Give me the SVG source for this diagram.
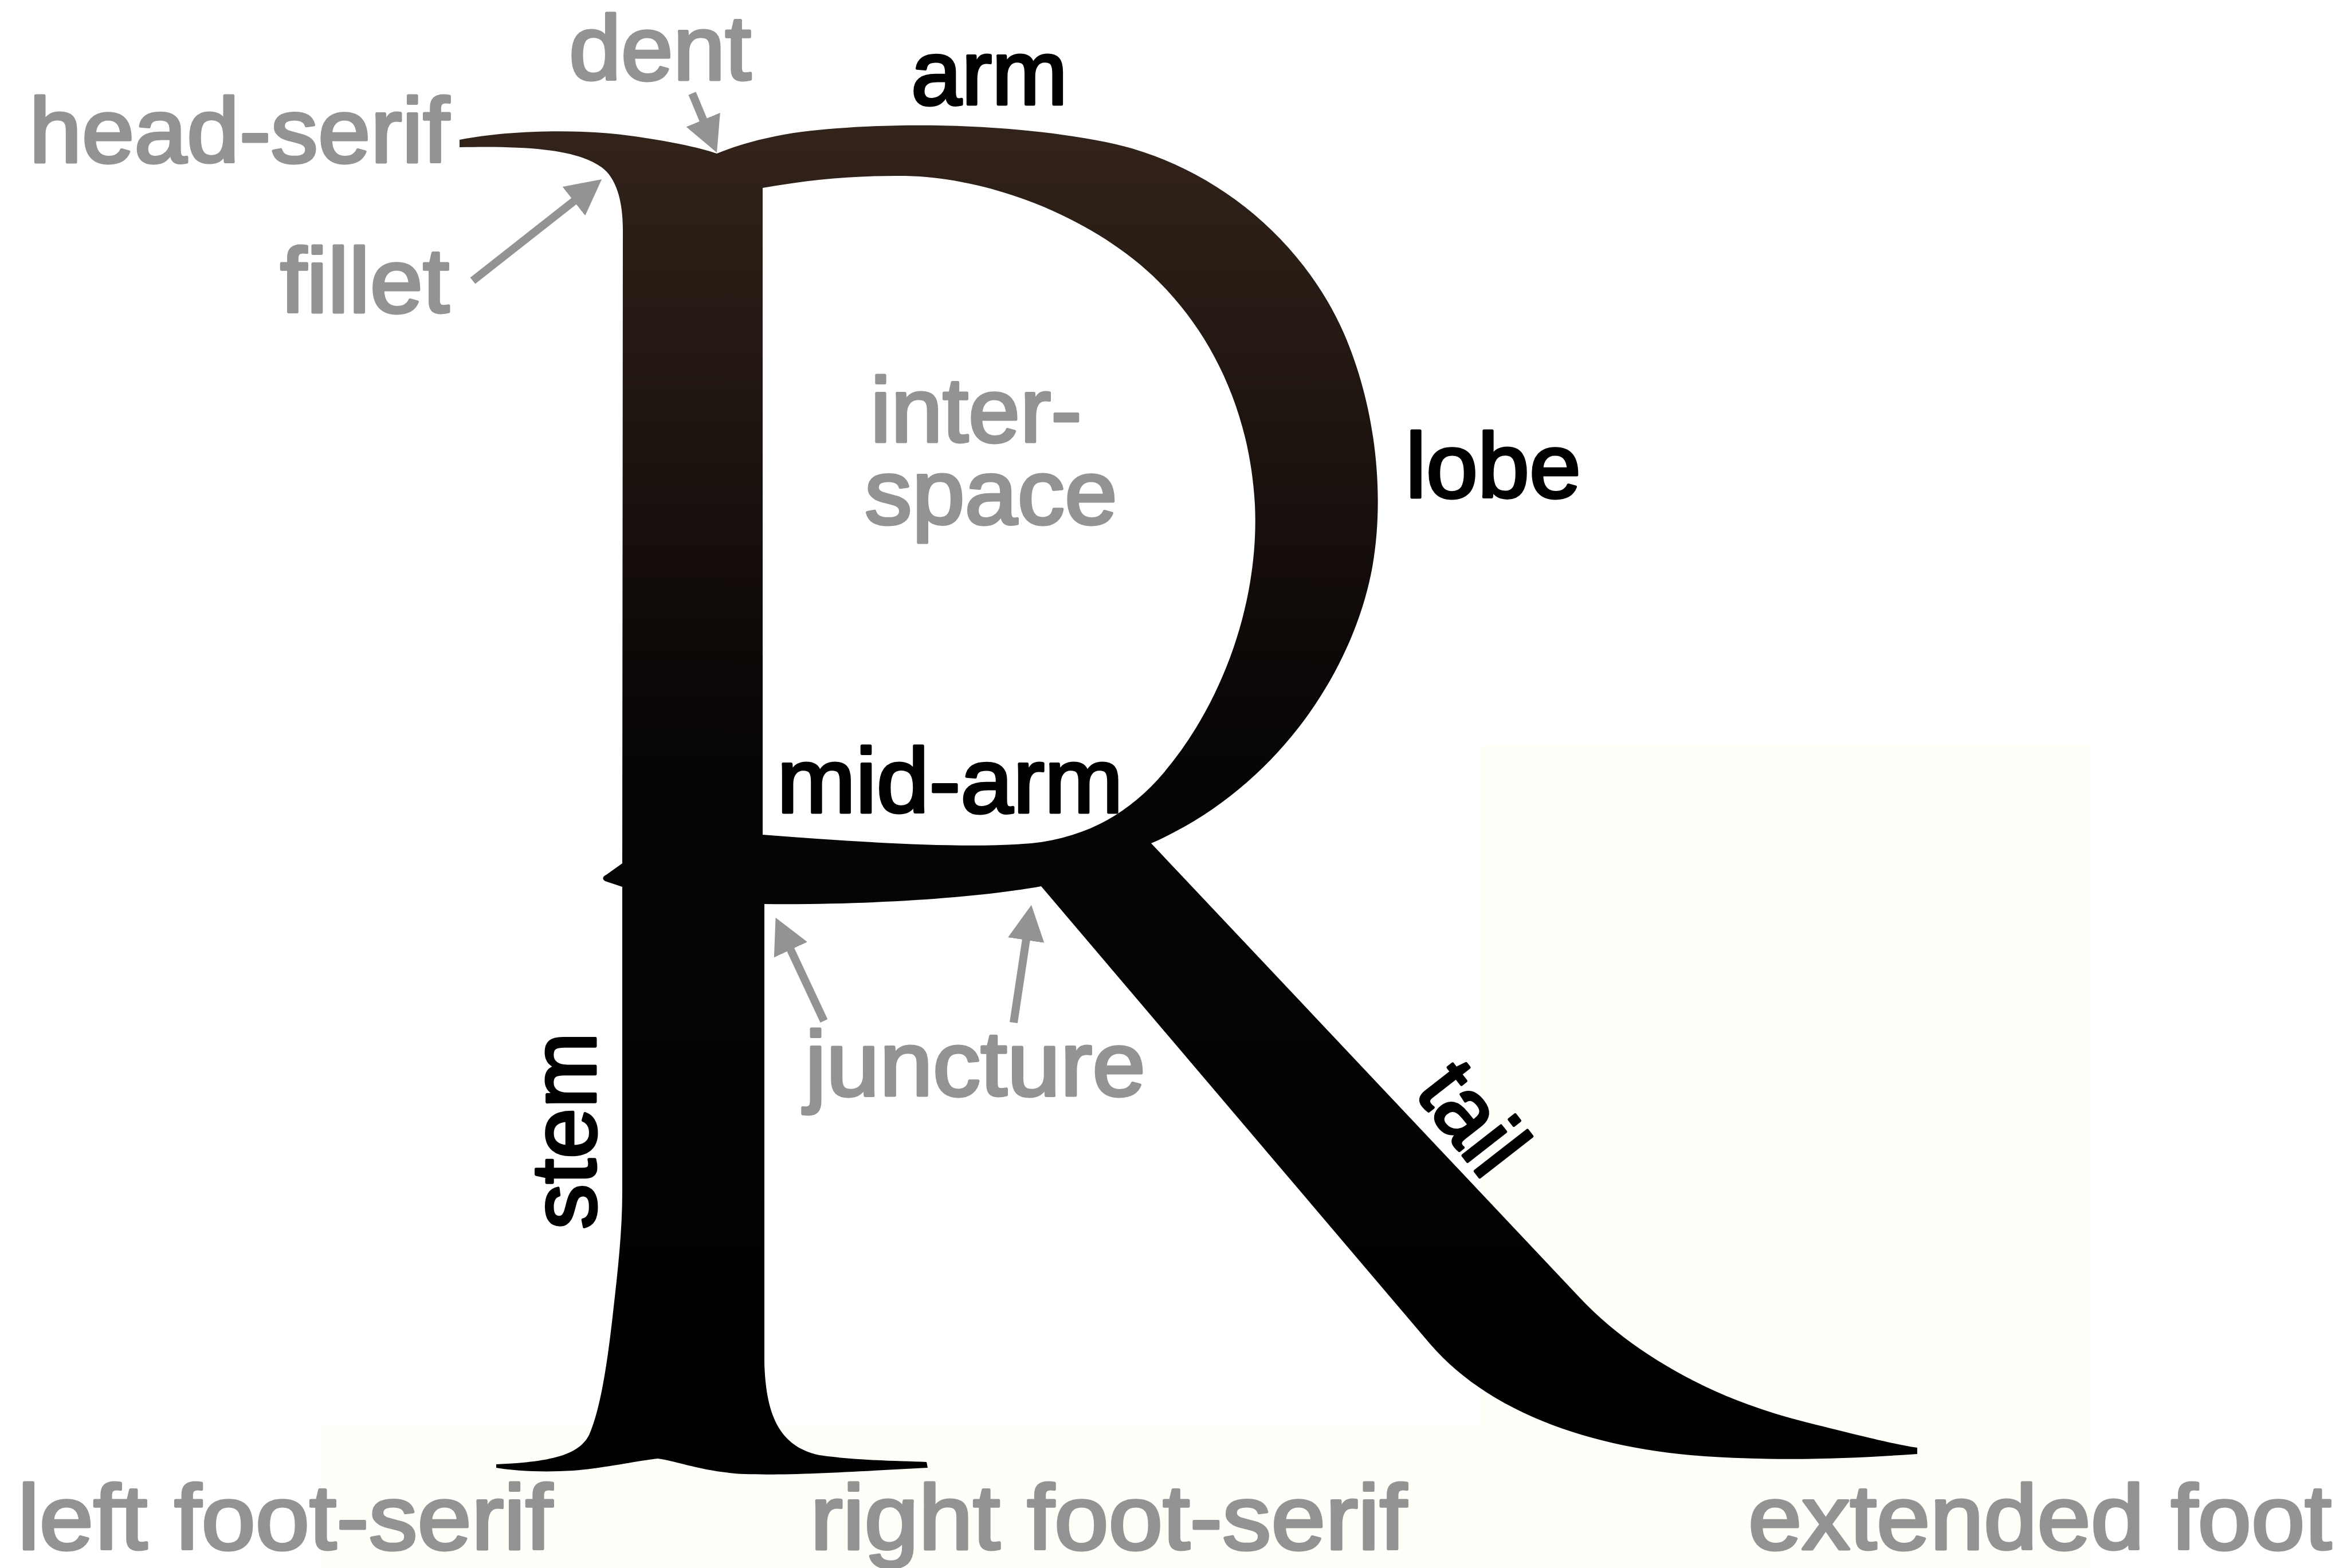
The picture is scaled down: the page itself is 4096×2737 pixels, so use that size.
<svg xmlns="http://www.w3.org/2000/svg" width="4096" height="2737" viewBox="0 0 4096 2737">
<style>
.lbl{font-family:"Liberation Sans",Arial,Helvetica,sans-serif;font-size:160px;stroke-width:5;stroke-linejoin:round}
.g{fill:#939393;stroke:#939393}
.k{fill:#000;stroke:#000}
.arrow{stroke:#939393;stroke-width:14;fill:none;marker-end:url(#head)}
</style>
<defs>
<linearGradient id="ink" gradientUnits="userSpaceOnUse" x1="0" y1="200" x2="0" y2="2600">
<stop offset="0" stop-color="#33241b"/>
<stop offset="0.22" stop-color="#1f1510"/>
<stop offset="0.45" stop-color="#080505"/>
<stop offset="1" stop-color="#000"/>
</linearGradient>
<marker id="head" markerUnits="userSpaceOnUse" markerWidth="66" markerHeight="64" refX="2" refY="32" orient="auto" viewBox="0 0 66 64">
<path d="M0,0 L62,32 L0,64 Z" fill="#939393"/>
</marker>
</defs>
<rect width="4096" height="2737" fill="#fff"/>
<rect x="2586" y="1300" width="1064" height="1437" fill="#fffef8"/>
<rect x="560" y="2490" width="3090" height="247" fill="#fffef8"/>

<g id="letter-R">
<path fill="url(#ink)" fill-rule="evenodd" d="M802,244 C880,228 1010,224 1100,237 C1160,245 1215,256 1251,268 C1290,252 1340,238 1400,230 C1550,212 1760,214 1930,248 C2100,282 2260,400 2340,570 C2400,700 2418,860 2395,990 C2360,1180 2220,1380 2009,1472 L2754,2262 C2840,2355 2980,2440 3150,2482 C3230,2502 3300,2520 3346,2527 L3346,2538 C3230,2546 3100,2552 2950,2540 C2780,2525 2600,2468 2495,2345 L1817,1547 C1720,1565 1540,1580 1334,1578 L1334,2380 C1337,2470 1360,2525 1430,2540 C1500,2550 1570,2550 1617,2552 L1619,2562 C1500,2568 1380,2576 1300,2573 C1230,2570 1180,2550 1148,2546 C1110,2550 1060,2562 1000,2567 C950,2570 900,2568 866,2562 L866,2556 C960,2552 1010,2540 1028,2505 C1048,2460 1060,2380 1070,2290 C1078,2220 1086,2150 1086,2080 L1086,1548 L1056,1538 C1050,1534 1052,1530 1058,1527 L1086,1507 L1087,400 C1087,350 1075,310 1050,292 C1010,264 940,254 802,257 Z M1331,328 C1420,312 1500,306 1580,307 C1720,310 1880,370 1990,462 C2100,555 2180,700 2190,880 C2198,1040 2140,1220 2030,1350 C1975,1415 1900,1462 1800,1472 C1680,1482 1500,1470 1331,1457 Z"/>
</g>

<g id="connectors">
<line class="arrow" x1="1208" y1="163" x2="1228" y2="211"/>
<line class="arrow" x1="825" y1="490" x2="1003" y2="350"/>
<line class="arrow" x1="1438" y1="1782" x2="1379" y2="1656"/>
<line class="arrow" x1="1769" y1="1785" x2="1791" y2="1639"/>
</g>

<g id="label-head-serif"><text class="lbl g" x="51" y="283" textLength="733" lengthAdjust="spacingAndGlyphs">head-serif</text></g>
<g id="label-dent"><text class="lbl g" x="993" y="139" textLength="318" lengthAdjust="spacingAndGlyphs">dent</text></g>
<g id="label-fillet"><text class="lbl g" x="489" y="545" textLength="295" lengthAdjust="spacingAndGlyphs">fillet</text></g>
<g id="label-arm"><text class="lbl k" x="1590" y="182" textLength="273" lengthAdjust="spacingAndGlyphs">arm</text></g>
<g id="label-interspace"><text class="lbl g" x="1519" y="771" textLength="369" lengthAdjust="spacingAndGlyphs">inter-</text><text class="lbl g" x="1509" y="914" textLength="441" lengthAdjust="spacingAndGlyphs">space</text></g>
<g id="label-lobe"><text class="lbl k" x="2453" y="868" textLength="306" lengthAdjust="spacingAndGlyphs">lobe</text></g>
<g id="label-mid-arm"><text class="lbl k" x="1356" y="1418" textLength="604" lengthAdjust="spacingAndGlyphs">mid-arm</text></g>
<g id="label-juncture"><text class="lbl g" x="1405" y="1912" textLength="594" lengthAdjust="spacingAndGlyphs">juncture</text></g>
<g id="label-stem"><text class="lbl k" transform="translate(1039,2146) rotate(-90)" x="0" y="0" textLength="344" lengthAdjust="spacingAndGlyphs">stem</text></g>
<g id="label-tail"><text class="lbl k" transform="translate(2467,1907) rotate(52)" x="0" y="0" textLength="198" lengthAdjust="spacingAndGlyphs">tail</text></g>
<g id="label-left-foot-serif"><text class="lbl g" x="31" y="2704" textLength="933" lengthAdjust="spacingAndGlyphs">left foot-serif</text></g>
<g id="label-right-foot-serif"><text class="lbl g" x="1414" y="2704" textLength="1041" lengthAdjust="spacingAndGlyphs">right foot-serif</text></g>
<g id="label-extended-foot"><text class="lbl g" x="3051" y="2704" textLength="1018" lengthAdjust="spacingAndGlyphs">extended foot</text></g>
</svg>
